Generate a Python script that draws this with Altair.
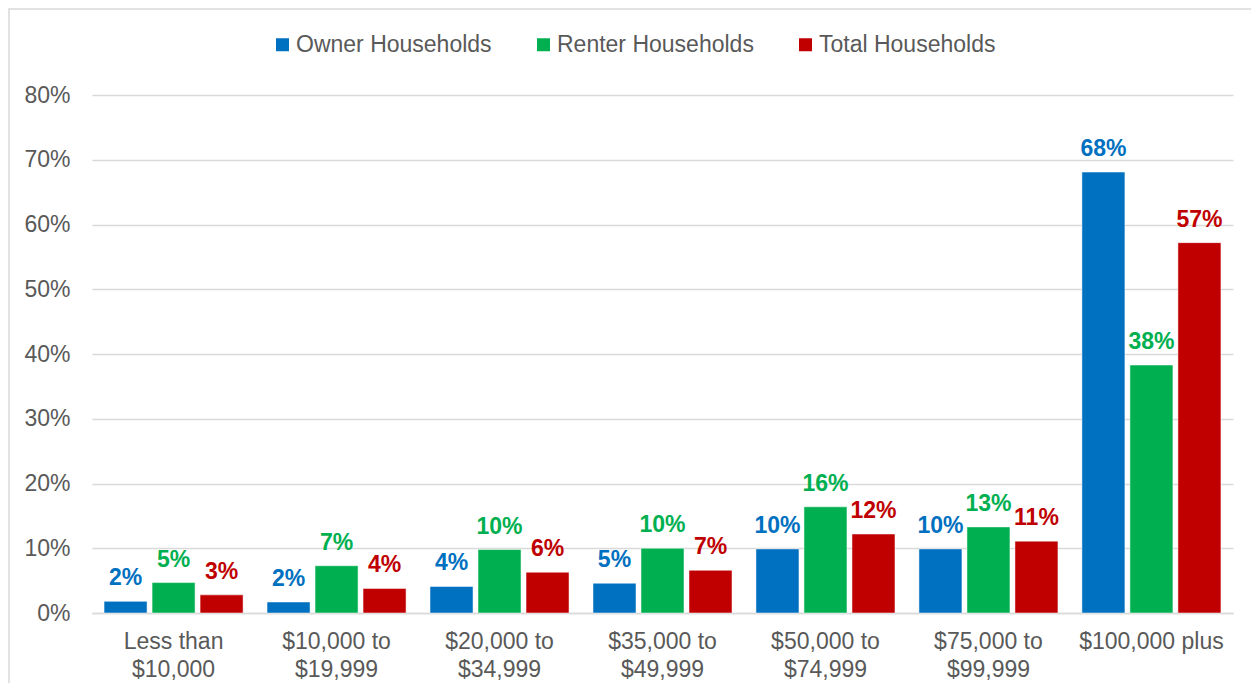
import altair as alt
import pandas as pd

categories = ["Less than\n$10,000", "$10,000 to\n$19,999", "$20,000 to\n$34,999",
              "$35,000 to\n$49,999", "$50,000 to\n$74,999", "$75,000 to\n$99,999",
              "$100,000 plus"]
series = ["Owner Households", "Renter Households", "Total Households"]
owner = [1.8, 1.7, 4.1, 4.6, 9.9, 9.9, 68.1]
renter = [4.7, 7.3, 9.8, 10.0, 16.4, 13.3, 38.3]
total = [2.8, 3.8, 6.3, 6.6, 12.2, 11.1, 57.2]
colors = ["#0070C0", "#00B050", "#C00000"]
y_ticks = [0, 10, 20, 30, 40, 50, 60, 70, 80]

rows = []
for name, vals in zip(series, [owner, renter, total]):
    for c, v in zip(categories, vals):
        rows.append({"cat": c, "series": name, "value": v})
df = pd.DataFrame(rows)

W, H = 1141, 518
GRAY = "#595959"
LINE = "#D9D9D9"

base = alt.Chart(df).encode(
    x=alt.X("cat:N", sort=categories,
            scale=alt.Scale(paddingInner=0.147, paddingOuter=0.074),
            axis=alt.Axis(title=None, labelAngle=0, labelExpr="split(datum.label, '\\n')",
                          labelFontSize=23, labelColor=GRAY, labelLineHeight=28,
                          labelPadding=17, ticks=False, domainColor=LINE,
                          domainWidth=1.5, grid=False, labelBaseline="top")),
    xOffset=alt.XOffset("series:N", sort=series,
                        scale=alt.Scale(paddingInner=0.104, paddingOuter=0)),
    y=alt.Y("value:Q", scale=alt.Scale(domain=[0, 80], nice=False),
            axis=alt.Axis(title=None, values=y_ticks, labelExpr="datum.value + '%'",
                          labelFontSize=23, labelColor=GRAY, labelPadding=22,
                          ticks=False, domain=False, grid=True, gridColor=LINE,
                          gridWidth=1.5)),
    color=alt.Color("series:N", sort=series,
                    scale=alt.Scale(domain=series, range=colors),
                    legend=alt.Legend(orient="none", legendX=179, legendY=-62,
                                      direction="horizontal", title=None,
                                      symbolType="square", symbolSize=169,
                                      symbolStrokeWidth=0, labelFontSize=23,
                                      labelColor=GRAY, columnPadding=40,
                                      labelOffset=2, padding=0, labelLimit=400)),
)

bars = base.mark_bar(stroke="white", strokeWidth=0.5)
labels = base.mark_text(fontSize=23, fontWeight="bold", baseline="alphabetic",
                        dy=-16).encode(
    text=alt.Text("label:N")
).transform_calculate(label="format(datum.value, '.0f') + '%'")

frame = alt.Chart(pd.DataFrame({"a": [0]})).mark_rect(
    fill="transparent", stroke=LINE, strokeWidth=1.5
).encode(x=alt.value(-83), x2=alt.value(W + 40), y=alt.value(-86), y2=alt.value(H + 120))

chart = alt.layer(frame, bars, labels).properties(
    width=W, height=H,
    autosize=alt.AutoSizeParams(type="none"),
    padding={"left": 84, "top": 87, "right": 18, "bottom": 70},
).configure(font="Liberation Sans").configure_view(stroke=None)

chart.save("out.html", embed_options={"renderer": "svg", "actions": False})
